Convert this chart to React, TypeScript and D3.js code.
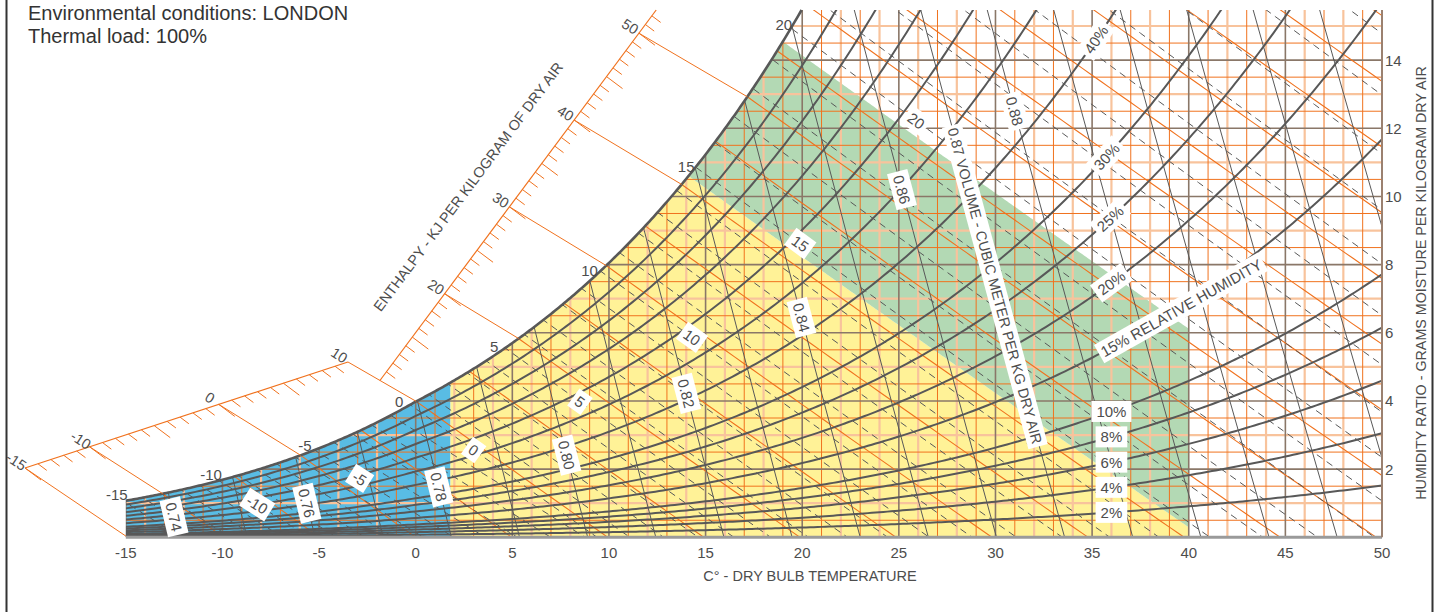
import React, { useEffect, useRef } from "react";
import * as d3 from "d3";

// ---------------- data ----------------
const TITLE_LINES = ["Environmental conditions: LONDON", "Thermal load: 100%"];
const X_AXIS_TITLE = "C° - DRY BULB TEMPERATURE";
const Y_AXIS_TITLE = "HUMIDITY RATIO - GRAMS MOISTURE PER KILOGRAM DRY AIR";
const ENTHALPY_TITLE = "ENTHALPY - KJ PER KILOGRAM OF DRY AIR";

const T_RANGE = [-15, 50];
const W_RANGE = [0, 15.47];
const T_TICKS = [-15, -10, -5, 0, 5, 10, 15, 20, 25, 30, 35, 40, 45, 50];
const W_TICKS = [2, 4, 6, 8, 10, 12, 14];

const RH_LEVELS = [2, 4, 6, 8, 10, 15, 20, 25, 30, 40, 50, 60, 70, 80, 90];
const RH_BOX_LABELS = [10, 8, 6, 4, 2];
const RH_BOX_T = 36.0;
const RH_SLANT_LABELS = [
  { rh: 40, t: 35.2 },
  { rh: 30, t: 35.75 },
  { rh: 25, t: 35.93 },
  { rh: 20, t: 36.0 },
];
const RH_TITLE = { rh: 15, t: 35.5, text: "15% RELATIVE HUMIDITY" };

const ENTHALPY_LEVELS = [-15, -10, -5, 0, 5, 10, 15, 20, 25, 30, 35, 40, 45, 50, 55, 60, 65, 70, 75, 80, 85, 90];
const WET_BULB_LEVELS = [-15, -14, -13, -12, -11, -10, -9, -8, -7, -6, -5, -4, -3, -2, -1, 0, 1, 2, 3, 4, 5, 6, 7, 8, 9, 10, 11, 12, 13, 14, 15, 16, 17, 18, 19, 20, 21, 22, 23, 24, 25, 26, 27, 28];
const WET_BULB_LABELS = [
  { twb: -10, t: -8.2 },
  { twb: -5, t: -2.9 },
  { twb: 0, t: 3.0 },
  { twb: 5, t: 8.5 },
  { twb: 10, t: 14.3 },
  { twb: 15, t: 19.9 },
  { twb: 20, t: 25.9 },
];
const SAT_LABELS = [-15, -10, -5, 0, 5, 10, 15, 20];

const VOLUME_LEVELS = [0.74, 0.75, 0.76, 0.77, 0.78, 0.79, 0.8, 0.81, 0.82, 0.83, 0.84, 0.85, 0.86, 0.87, 0.88, 0.89, 0.9, 0.91, 0.92, 0.93, 0.94];
const VOLUME_LABELS = [
  { v: 0.74, w: 0.6, text: "0.74" },
  { v: 0.76, w: 1.0, text: "0.76" },
  { v: 0.78, w: 1.48, text: "0.78" },
  { v: 0.8, w: 2.41, text: "0.80" },
  { v: 0.82, w: 4.22, text: "0.82" },
  { v: 0.84, w: 6.45, text: "0.84" },
  { v: 0.86, w: 10.2, text: "0.86" },
  { v: 0.88, w: 12.5, text: "0.88" },
];
const VOLUME_TITLE = { v: 0.87, w: 12.0, text: "0.87 VOLUME - CUBIC METER PER KG DRY AIR" };

// comfort zones: dry-bulb limits and enthalpy limits (kJ/kg)
const ZONES = [
  { name: "cold", color: "#59BCE4", tMin: -15, tMax: 1.8, hMin: null as number | null, hMax: null as number | null },
  { name: "comfort", color: "#FFF297", tMin: 1.8, tMax: 40, hMin: null as number | null, hMax: 41 },
  { name: "humid", color: "#B3D9B4", tMin: 1.8, tMax: 40, hMin: 41, hMax: 56 },
];

// enthalpy scale (positions in chart data units: [T, w])
const LOWER_SCALE = { h0: -15, h1: 10, p0: [-20.215, 2.033], p1: [-3.505, 5.143] };
const UPPER_SCALE = { h0: 10, h1: 50, p0: [-1.85, 4.6], p1: [11.55, 14.79] };
const LOWER_SCALE_LABELS = [-15, -10, 0, 10];
const UPPER_SCALE_LABELS = [20, 30, 40, 50];
const LOWER_CONNECTORS = [-15, -10, 0, 10];
const UPPER_CONNECTORS = [20, 30, 40, 50];

// ---------------- psychrometrics ----------------
const P_ATM = 101.325;
const P_VOLUME = 101.2;
const SAT_SKEW = 0.055;

function pws(T: number) {
  return T >= 0
    ? 0.61121 * Math.exp((18.678 - T / 234.5) * (T / (257.14 + T)))
    : 0.61115 * Math.exp((23.036 - T / 333.7) * (T / (279.82 + T)));
}
function wStd(T: number, rh: number) {
  const pw = rh * pws(T);
  return (622 * pw) / (P_ATM - pw);
}
function wRH(T: number, rh: number) {
  return wStd(T, rh) * (1 + SAT_SKEW * rh);
}
const wSat = (T: number) => wRH(T, 1);
function wEnth(T: number, h: number) {
  return (1000 * (h - 1.006 * T)) / (2501 + 1.86 * T);
}
function wWB(T: number, twb: number) {
  const ws = wStd(twb, 1) / 1000;
  if (twb >= 0)
    return (1000 * ((2501 - 2.326 * twb) * ws - 1.006 * (T - twb))) / (2501 + 1.86 * T - 4.186 * twb);
  return (1000 * ((2830 - 0.24 * twb) * ws - 1.006 * (T - twb))) / (2830 + 1.86 * T - 2.1 * twb);
}
function tVol(v: number, w: number) {
  return (v * P_VOLUME) / (0.287042 * (1 + (1.6078 * w) / 1000)) - 273.15;
}
function bisect(f: (t: number) => number, a: number, b: number) {
  let fa = f(a);
  for (let i = 0; i < 80; i++) {
    const m = (a + b) / 2;
    const fm = f(m);
    if (fa * fm <= 0) b = m;
    else {
      a = m;
      fa = fm;
    }
  }
  return (a + b) / 2;
}
function steps(a: number, b: number, s: number) {
  const r: number[] = [];
  for (let t = a; t < b - 1e-9; t += s) r.push(t);
  r.push(b);
  return r;
}

// ---------------- styles ----------------
const FONT = "'Liberation Sans', Arial, Helvetica, sans-serif";
const TEXT = "#4d4d4d";
const ORANGE = "#F0721E";
const PALE = "#F8C39C";
const MAJOR = "#8A7768";
const DARK = "#585858";

function draw(root: SVGSVGElement) {
  const svg = d3.select(root);
  svg.selectAll("*").remove();

  const x = d3.scaleLinear().domain(T_RANGE).range([125.8, 1382]);
  const y = d3.scaleLinear().domain(W_RANGE).range([537.3, 10]);
  const W_TOP = W_RANGE[1];
  const px = (t: number, w: number) => [x(t), y(w)] as [number, number];
  const line = d3
    .line<number[]>()
    .x((d) => x(d[0]))
    .y((d) => y(d[1]));
  const pline = d3
    .line<number[]>()
    .x((d) => d[0])
    .y((d) => d[1]);

  const tTop = bisect((t) => wSat(t) - W_TOP, 5, 30);

  // clip region: under saturation curve, inside plot
  const clipPts: number[][] = [[T_RANGE[0], 0]];
  steps(T_RANGE[0], tTop, 0.1).forEach((t) => clipPts.push([t, wSat(t)]));
  clipPts.push([T_RANGE[1], W_TOP], [T_RANGE[1], 0]);
  const defs = svg.append("defs");
  defs
    .append("clipPath")
    .attr("id", "satClip")
    .append("path")
    .attr("d", line(clipPts) + "Z");

  const plot = svg.append("g").attr("clip-path", "url(#satClip)");

  // zones
  ZONES.forEach((z) => {
    const ts = steps(z.tMin, z.tMax, 0.1);
    const pts: number[][] = [];
    ts.forEach((t) => {
      const lo = z.hMin != null ? Math.max(0, wEnth(t, z.hMin)) : 0;
      pts.push([t, Math.min(lo, W_TOP + 1)]);
    });
    ts.slice()
      .reverse()
      .forEach((t) => {
        const up = z.hMax != null ? Math.min(W_TOP + 1, Math.max(0, wEnth(t, z.hMax))) : W_TOP + 1;
        pts.push([t, up]);
      });
    plot.append("path").attr("d", line(pts) + "Z").attr("fill", z.color);
  });

  // grid
  const T_GRID = d3.range(T_RANGE[0], T_RANGE[1] + 1, 1);
  const W_GRID = d3.range(0.5, W_TOP, 0.5);
  const tKind = (t: number) => (t % 5 === 0 ? "major" : Math.abs(t) % 2 === 1 ? "thin" : "pale");
  const wKind = (w: number) => (w % 2 === 0 ? "major" : w % 1 === 0 ? "pale" : "thin");
  const gridStyle: Record<string, [string, number]> = {
    pale: [PALE, 2.2],
    thin: [ORANGE, 1],
    major: [MAJOR, 1.6],
  };
  ["pale", "thin", "major"].forEach((kind) => {
    const [c, sw] = gridStyle[kind];
    T_GRID.filter((t) => tKind(t) === kind).forEach((t) =>
      plot
        .append("line")
        .attr("x1", x(t))
        .attr("x2", x(t))
        .attr("y1", y(0))
        .attr("y2", y(W_TOP))
        .attr("stroke", c)
        .attr("stroke-width", sw)
    );
    W_GRID.filter((w) => wKind(w) === kind).forEach((w) =>
      plot
        .append("line")
        .attr("x1", x(T_RANGE[0]))
        .attr("x2", x(T_RANGE[1]))
        .attr("y1", y(w))
        .attr("y2", y(w))
        .attr("stroke", c)
        .attr("stroke-width", sw)
    );
  });

  // enthalpy lines
  ENTHALPY_LEVELS.forEach((h) => {
    const pts = steps(-25, 55, 0.5)
      .map((t) => [t, wEnth(t, h)])
      .filter((p) => p[1] > -2 && p[1] < 20);
    plot.append("path").attr("d", line(pts)).attr("fill", "none").attr("stroke", ORANGE).attr("stroke-width", 1.1);
  });

  // wet-bulb lines (dashed)
  WET_BULB_LEVELS.forEach((twb) => {
    const pts = steps(twb - 4, 55, 0.5)
      .map((t) => [t, wWB(t, twb)])
      .filter((p) => p[1] > -2 && p[1] < 20);
    plot
      .append("path")
      .attr("d", line(pts))
      .attr("fill", "none")
      .attr("stroke", DARK)
      .attr("stroke-width", 1)
      .attr("stroke-dasharray", "7,5");
  });

  // volume lines
  VOLUME_LEVELS.forEach((v) => {
    const pts = steps(-1, 17, 0.5).map((w) => [tVol(v, w), w]);
    plot.append("path").attr("d", line(pts)).attr("fill", "none").attr("stroke", DARK).attr("stroke-width", 1);
  });

  // relative humidity curves
  RH_LEVELS.forEach((rh) => {
    const pts = steps(T_RANGE[0], T_RANGE[1], 0.2).map((t) => [t, wRH(t, rh / 100)]);
    plot.append("path").attr("d", line(pts)).attr("fill", "none").attr("stroke", DARK).attr("stroke-width", 2);
  });

  // saturation curve
  svg
    .append("path")
    .attr("d", line(steps(T_RANGE[0], tTop, 0.1).map((t) => [t, wSat(t)])))
    .attr("fill", "none")
    .attr("stroke", DARK)
    .attr("stroke-width", 2.6);

  // axes
  svg
    .append("line")
    .attr("x1", x(T_RANGE[0]))
    .attr("x2", x(T_RANGE[1]))
    .attr("y1", y(0))
    .attr("y2", y(0))
    .attr("stroke", "#9a9a9a")
    .attr("stroke-width", 3);
  svg
    .append("line")
    .attr("x1", x(T_RANGE[1]))
    .attr("x2", x(T_RANGE[1]))
    .attr("y1", y(0))
    .attr("y2", y(W_TOP))
    .attr("stroke", "#9b8170")
    .attr("stroke-width", 2);

  // enthalpy scales
  const tickDir = [0.8, 0.6];
  const scaleGroup = svg.append("g");
  const scalePoint = (sc: typeof LOWER_SCALE, h: number) => {
    const a = px(sc.p0[0], sc.p0[1]);
    const b = px(sc.p1[0], sc.p1[1]);
    const f = (h - sc.h0) / (sc.h1 - sc.h0);
    return [a[0] + f * (b[0] - a[0]), a[1] + f * (b[1] - a[1])];
  };
  const satEntry = (h: number) => {
    const ts = bisect((t) => wSat(t) - wEnth(t, h), -40, 30);
    if (ts < T_RANGE[0]) return px(T_RANGE[0], Math.max(0, wEnth(T_RANGE[0], h)));
    return px(ts, wSat(ts));
  };
  const scaleLine = (sc: typeof LOWER_SCALE, hEnd: number) => {
    const a = scalePoint(sc, sc.h0);
    const b = scalePoint(sc, hEnd);
    scaleGroup.append("path").attr("d", pline([a, b])).attr("stroke", ORANGE).attr("stroke-width", 1.2).attr("fill", "none");
  };
  const uA = scalePoint(UPPER_SCALE, UPPER_SCALE.h0);
  const uB = scalePoint(UPPER_SCALE, UPPER_SCALE.h1);
  const upperEnd = UPPER_SCALE.h0 + ((uA[1] - y(W_TOP)) / (uA[1] - uB[1])) * (UPPER_SCALE.h1 - UPPER_SCALE.h0);
  scaleLine(LOWER_SCALE, LOWER_SCALE.h1);
  scaleLine(UPPER_SCALE, upperEnd);

  const drawTicks = (sc: typeof LOWER_SCALE, from: number, to: number) => {
    d3.range(from, Math.floor(to) + 1).forEach((h) => {
      const p = scalePoint(sc, h);
      const len = h % 5 === 0 ? 20 : 11;
      scaleGroup
        .append("line")
        .attr("x1", p[0])
        .attr("y1", p[1])
        .attr("x2", p[0] + tickDir[0] * len)
        .attr("y2", p[1] + tickDir[1] * len)
        .attr("stroke", ORANGE)
        .attr("stroke-width", 1);
    });
  };
  drawTicks(LOWER_SCALE, LOWER_SCALE.h0, LOWER_SCALE.h1 - 1);
  drawTicks(UPPER_SCALE, UPPER_SCALE.h0 + 1, upperEnd);

  LOWER_CONNECTORS.forEach((h) => {
    scaleGroup.append("path").attr("d", pline([scalePoint(LOWER_SCALE, h), satEntry(h)])).attr("stroke", ORANGE).attr("stroke-width", 1).attr("fill", "none");
  });
  UPPER_CONNECTORS.forEach((h) => {
    scaleGroup.append("path").attr("d", pline([scalePoint(UPPER_SCALE, h), satEntry(h)])).attr("stroke", ORANGE).attr("stroke-width", 1).attr("fill", "none");
  });

  const labels = svg.append("g").attr("font-family", FONT);
  const plainText = (xx: number, yy: number, angle: number, text: string, size: number, anchor = "middle") =>
    labels
      .append("text")
      .attr("transform", `translate(${xx},${yy}) rotate(${angle})`)
      .attr("text-anchor", anchor)
      .attr("dominant-baseline", "central")
      .attr("font-size", size)
      .attr("fill", TEXT)
      .text(text);

  const scaleLabel = (sc: typeof LOWER_SCALE, h: number) => {
    const p = scalePoint(sc, h);
    plainText(p[0] - tickDir[0] * 11, p[1] - tickDir[1] * 11, 33, String(h), 14.5);
  };
  LOWER_SCALE_LABELS.forEach((h) => scaleLabel(LOWER_SCALE, h));
  UPPER_SCALE_LABELS.forEach((h) => scaleLabel(UPPER_SCALE, h));

  // enthalpy title along upper scale
  {
    const dx = uB[0] - uA[0];
    const dy = uB[1] - uA[1];
    const len = Math.hypot(dx, dy);
    const dir = [dx / len, dy / len];
    const nrm = [dir[1], -dir[0]];
    const p = scalePoint(UPPER_SCALE, 29.2);
    const ang = (Math.atan2(dy, dx) * 180) / Math.PI;
    plainText(p[0] + nrm[0] * 45, p[1] + nrm[1] * 45, ang, ENTHALPY_TITLE, 14.5);
  }

  // boxed labels
  const boxed = (xx: number, yy: number, angle: number, text: string, size = 14.5, anchor = "middle", padX = 3, padY = 1) => {
    const g = labels.append("g").attr("transform", `translate(${xx},${yy}) rotate(${angle})`);
    const rect = g.append("rect").attr("fill", "#fff");
    const t = g
      .append("text")
      .attr("text-anchor", anchor)
      .attr("dominant-baseline", "central")
      .attr("font-size", size)
      .attr("fill", TEXT)
      .text(text);
    const bb = (t.node() as SVGTextElement).getBBox();
    rect
      .attr("x", bb.x - padX)
      .attr("y", bb.y - padY)
      .attr("width", bb.width + 2 * padX)
      .attr("height", bb.height + 2 * padY);
  };
  const angleOf = (a: number[], b: number[]) => (Math.atan2(b[1] - a[1], b[0] - a[0]) * 180) / Math.PI;

  // saturation labels
  SAT_LABELS.forEach((t) => {
    const P = px(t, wSat(t));
    const a = px(t - 0.3, wSat(t - 0.3));
    const b = px(t + 0.3, wSat(t + 0.3));
    const l = Math.hypot(b[0] - a[0], b[1] - a[1]);
    const tg = [(b[0] - a[0]) / l, (b[1] - a[1]) / l];
    const n = [tg[1], -tg[0]];
    const back = 4 + 22 * Math.abs(tg[1]);
    plainText(P[0] + n[0] * 8 - tg[0] * back, P[1] + n[1] * 8 - tg[1] * back, 0, String(t), 15);
  });

  // wet bulb labels
  WET_BULB_LABELS.forEach(({ twb, t }) => {
    const P = px(t, wWB(t, twb));
    const ang = angleOf(px(t - 0.5, wWB(t - 0.5, twb)), px(t + 0.5, wWB(t + 0.5, twb)));
    boxed(P[0], P[1], ang, String(twb), 15, "middle", 4, 2);
  });

  // volume labels
  VOLUME_LABELS.forEach(({ v, w, text }) => {
    const P = px(tVol(v, w), w);
    const ang = angleOf(px(tVol(v, w + 0.5), w + 0.5), px(tVol(v, w - 0.5), w - 0.5));
    boxed(P[0], P[1], ang, text, 15, "middle", 4, 2);
  });
  {
    const { v, w, text } = VOLUME_TITLE;
    const P = px(tVol(v, w), w);
    const ang = angleOf(px(tVol(v, w + 0.5), w + 0.5), px(tVol(v, w - 0.5), w - 0.5));
    boxed(P[0], P[1], ang, text, 14.5, "start", 3, 2);
  }

  // relative humidity labels
  RH_BOX_LABELS.forEach((rh) => {
    const P = px(RH_BOX_T, wRH(RH_BOX_T, rh / 100));
    boxed(P[0], P[1], 0, `${rh}%`, 15, "middle", 5, 2);
  });
  RH_SLANT_LABELS.forEach(({ rh, t }) => {
    const r = rh / 100;
    const P = px(t, wRH(t, r));
    const ang = angleOf(px(t - 0.5, wRH(t - 0.5, r)), px(t + 0.5, wRH(t + 0.5, r)));
    boxed(P[0], P[1], ang, `${rh}%`, 15, "middle", 4, 2);
  });
  {
    const { rh, t, text } = RH_TITLE;
    const r = rh / 100;
    const P = px(t, wRH(t, r));
    const ang = angleOf(px(t - 0.5, wRH(t - 0.5, r)), px(t + 3, wRH(t + 3, r)));
    boxed(P[0], P[1], ang, text, 15, "start", 3, 2);
  }

  // axis tick labels
  T_TICKS.forEach((t) => plainText(x(t), 552, 0, String(t), 15));
  W_TICKS.forEach((w) => plainText(1385, y(w), 0, String(w), 15, "start"));
  plainText(810, 576, 0, X_AXIS_TITLE, 14.5);
  plainText(1421, 283, -90, Y_AXIS_TITLE, 14.3);

  // title
  TITLE_LINES.forEach((s, i) =>
    labels
      .append("text")
      .attr("x", 28)
      .attr("y", 20 + i * 23)
      .attr("font-size", 20)
      .attr("fill", "#333")
      .text(s)
  );

  // frame
  svg.append("line").attr("x1", 6.5).attr("x2", 6.5).attr("y1", 0).attr("y2", 612).attr("stroke", "#333").attr("stroke-width", 2);
  svg.append("line").attr("x1", 1432.5).attr("x2", 1432.5).attr("y1", 0).attr("y2", 612).attr("stroke", "#333").attr("stroke-width", 2);
}

export default function App() {
  const ref = useRef<SVGSVGElement>(null);
  useEffect(() => {
    if (ref.current) draw(ref.current);
  }, []);
  return (
    <svg
      ref={ref}
      width={1443}
      height={612}
      style={{ position: "absolute", left: 0, top: 0, background: "#fff", fontFamily: FONT }}
    />
  );
}
